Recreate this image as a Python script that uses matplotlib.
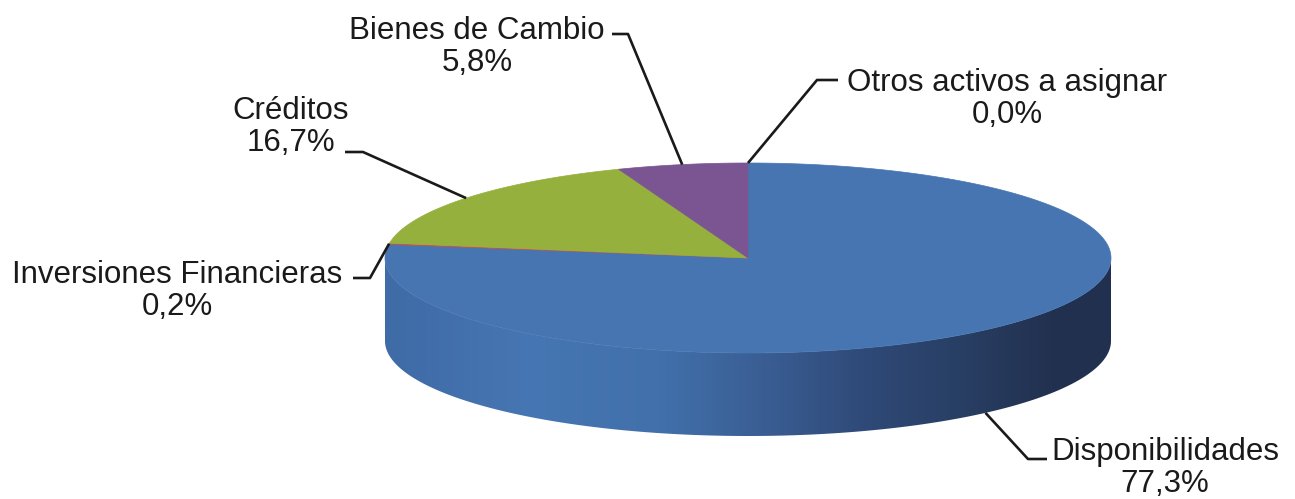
"""3D-style pie: composición del activo (Excel look, drawn with patches)."""

import matplotlib

matplotlib.use("Agg")
import matplotlib.pyplot as plt
import numpy as np
from matplotlib.colors import LinearSegmentedColormap
from matplotlib.patches import Polygon

# data
categories = [
    "Disponibilidades",
    "Inversiones Financieras",
    "Créditos",
    "Bienes de Cambio",
    "Otros activos a asignar",
]
shares = [77.3, 0.2, 16.7, 5.8, 0.0]
slice_colors = ["#4775b1", "#c0504d", "#96b03d", "#7a5592", "#4bacc6"]

# label text centres and leader-line elbows (pixel coords of the 1295x499 canvas)
label_pos = [(1165, 468), (177, 291), (291, 127), (477, 47), (1007, 99)]
leader_elbow = [
    ((1047, 459), (1028, 459)),
    ((353, 278), (370, 278)),
    ((345, 152), (363, 152)),
    ((612, 34), (628, 34)),
    ((838, 80), (817, 80)),
]

CX, CY = 748, 258  # centre of the top face
RX, RY = 363, 95  # ellipse semi-axes
DEPTH = 83
TEXT = "#1a1a1a"

side_cmap = LinearSegmentedColormap.from_list(
    "side",
    [
        (0.00, "#3f6ba6"),
        (0.20, "#4676b3"),
        (0.38, "#4170aa"),
        (0.52, "#3a5e94"),
        (0.66, "#2f4a78"),
        (0.80, "#283e63"),
        (0.92, "#22314f"),
        (1.00, "#213050"),
    ],
)


def ellipse_pt(theta_deg, drop=0.0):
    t = np.radians(theta_deg)
    return CX + RX * np.cos(t), CY - RY * np.sin(t) + drop


plt.rcParams["font.family"] = ["Liberation Sans", "DejaVu Sans"]

fig = plt.figure(figsize=(12.95, 4.99), dpi=100)
ax = fig.add_axes([0, 0, 1, 1])
ax.set_xlim(0, 1295)
ax.set_ylim(499, 0)
ax.axis("off")

# front side wall (visible between 180 and 360 degrees)
th = np.linspace(180, 360, 200)
upper = np.array([ellipse_pt(t) for t in th])
lower = np.array([ellipse_pt(t, DEPTH) for t in th[::-1]])
side = Polygon(np.vstack([upper, lower]), closed=True, facecolor="none", edgecolor="none")
ax.add_patch(side)
grad = np.linspace(0, 1, 256).reshape(1, -1)
img = ax.imshow(
    grad,
    cmap=side_cmap,
    extent=(CX - RX, CX + RX, CY + RY + DEPTH, CY - RY),
    aspect="auto",
    zorder=1,
)
img.set_clip_path(side)

# top face wedges, clockwise from 12 o'clock
start = 90.0
mids = []
for val, col in zip(shares, slice_colors):
    sweep = 360.0 * val / sum(shares)
    end = start - sweep
    if sweep > 0:
        arc = np.array([ellipse_pt(t) for t in np.linspace(start, end, 200)])
        wedge = Polygon(
            np.vstack([[CX, CY], arc]),
            closed=True,
            facecolor=col,
            edgecolor=col,
            linewidth=0.5,
            zorder=2,
        )
        ax.add_patch(wedge)
    mids.append((start + end) / 2.0)
    start = end

# labels with leader lines
for name, val, mid, pos, (p_text, p_elbow) in zip(
    categories, shares, mids, label_pos, leader_elbow
):
    drop = DEPTH if np.sin(np.radians(mid)) < 0 else 0.0
    anchor = ellipse_pt(mid, drop)
    ax.plot(
        [p_text[0], p_elbow[0], anchor[0]],
        [p_text[1], p_elbow[1], anchor[1]],
        color=TEXT,
        linewidth=1.9,
        solid_capstyle="butt",
        zorder=3,
    )
    pct = f"{val:.1f}".replace(".", ",") + "%"
    ax.text(
        pos[0],
        pos[1],
        f"{name}\n{pct}",
        ha="center",
        va="center",
        multialignment="center",
        fontsize=22.5,
        linespacing=1.05,
        color=TEXT,
        zorder=4,
    )

fig.savefig("out.png", dpi=100, facecolor="white")
